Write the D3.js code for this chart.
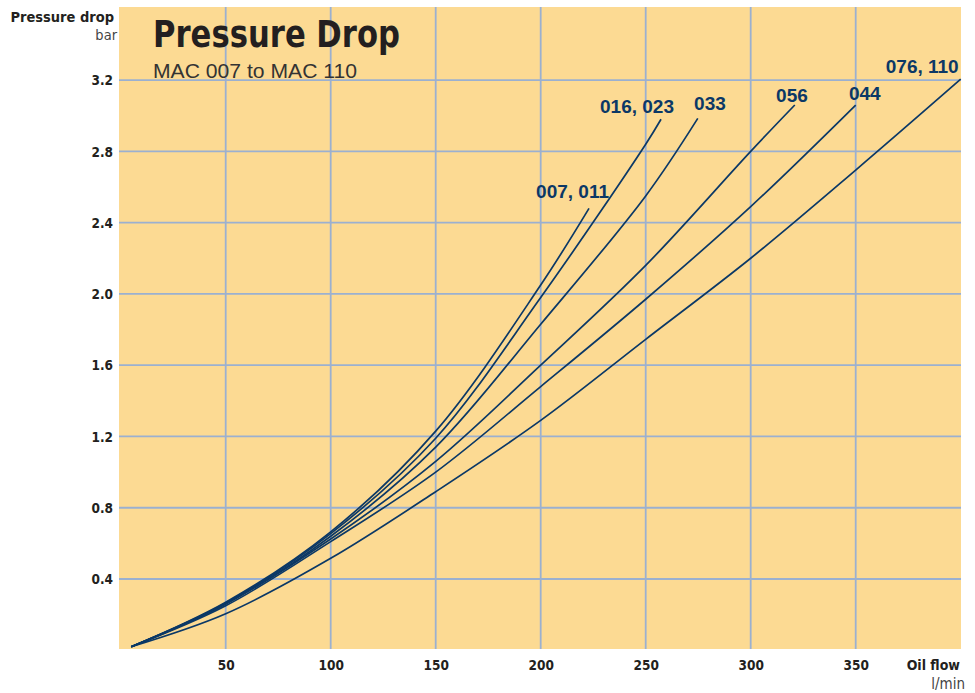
<!DOCTYPE html>
<html>
<head>
<meta charset="utf-8">
<script src="https://cdn.jsdelivr.net/npm/d3@7"></script>
<style>
  html, body { margin: 0; padding: 0; background: #ffffff; }
  svg { display: block; }
</style>
</head>
<body>
<svg id="chart" width="975" height="693"></svg>
<script>
// ---------- DATA ----------
const xTicks = [50, 100, 150, 200, 250, 300, 350];
const yTicks = [0.4, 0.8, 1.2, 1.6, 2.0, 2.4, 2.8, 3.2];

const seriesNames = ["007, 011", "016, 023", "033", "056", "044", "076, 110"];

const flow_007 = [5, 50, 100, 150, 200, 223];
const dp_007   = [0.02, 0.27, 0.665, 1.23, 2.05, 2.48];

const flow_016 = [5, 50, 100, 150, 200, 250, 257.3];
const dp_016   = [0.02, 0.265, 0.655, 1.19, 1.98, 2.84, 2.98];

const flow_033 = [5, 50, 100, 150, 200, 250, 274.8];
const dp_033   = [0.02, 0.26, 0.64, 1.14, 1.83, 2.55, 2.985];

const flow_056 = [5, 50, 100, 150, 200, 250, 300, 321];
const dp_056   = [0.02, 0.26, 0.625, 1.06, 1.60, 2.16, 2.80, 3.06];

const flow_044 = [5, 50, 100, 150, 200, 250, 300, 350];
const dp_044   = [0.02, 0.25, 0.61, 1.00, 1.48, 1.97, 2.49, 3.06];

const flow_076 = [5, 50, 100, 150, 200, 250, 300, 350, 400];
const dp_076   = [0.02, 0.205, 0.516, 0.89, 1.29, 1.745, 2.20, 2.695, 3.205];

const seriesFlows = [flow_007, flow_016, flow_033, flow_056, flow_044, flow_076];
const seriesDps   = [dp_007, dp_016, dp_033, dp_056, dp_044, dp_076];

// label offsets (styling) relative to each curve end, text-anchor end
const labelDx = [20, 13, 28, 13, 25, -2];
const labelDy = [-10, -6, -8, -3, -5, -6];

// ---------- LAYOUT ----------
const svg = d3.select("#chart");
const x = d3.scaleLinear().domain([0, 400]).range([120.7, 960.7]);
const y = d3.scaleLinear().domain([0, 3.6]).range([650.3, 8.8]);

const BG = "#FCDA93";
const GRID = "#9BB0D0";
const NAVY = "#0B3866";
const DARK = "#231F20";
const condensed = "'DejaVu Sans Condensed', 'DejaVu Sans', sans-serif";
const helv = "'Liberation Sans', Arial, sans-serif";

// background
svg.append("rect")
  .attr("x", 119).attr("y", 7)
  .attr("width", 961 - 119).attr("height", 649 - 7)
  .attr("fill", BG);

// grid
svg.append("g").selectAll("line").data(xTicks).join("line")
  .attr("x1", d => x(d)).attr("x2", d => x(d))
  .attr("y1", 7).attr("y2", 649)
  .attr("stroke", GRID).attr("stroke-width", 1.8);
svg.append("g").selectAll("line").data(yTicks).join("line")
  .attr("x1", 119).attr("x2", 961)
  .attr("y1", d => y(d)).attr("y2", d => y(d))
  .attr("stroke", GRID).attr("stroke-width", 1.8);

// axes labels via d3 axes (tick text only)
const yAxis = d3.axisLeft(y).tickValues(yTicks).tickFormat(d3.format(".1f")).tickSize(0).tickPadding(0);
const gy = svg.append("g").attr("transform", "translate(113,0)").call(yAxis);
gy.select(".domain").remove();
gy.selectAll("text")
  .attr("font-family", condensed).attr("font-weight", "bold").attr("font-size", 13.5)
  .attr("fill", DARK).attr("dy", "0.35em");

const xAxis = d3.axisBottom(x).tickValues(xTicks).tickFormat(d3.format("d")).tickSize(0).tickPadding(0);
const gx = svg.append("g").attr("transform", "translate(0,660)").call(xAxis);
gx.select(".domain").remove();
gx.selectAll("text")
  .attr("font-family", condensed).attr("font-weight", "bold").attr("font-size", 13.5)
  .attr("fill", DARK);

// axis titles
svg.append("text").attr("x", 114).attr("y", 22).attr("text-anchor", "end")
  .attr("font-family", condensed).attr("font-weight", "bold").attr("font-size", 14.5)
  .attr("fill", DARK).text("Pressure drop");
svg.append("text").attr("x", 117).attr("y", 40).attr("text-anchor", "end")
  .attr("font-family", condensed).attr("font-size", 14.5)
  .attr("fill", "#444").text("bar");
svg.append("text").attr("x", 960).attr("y", 670).attr("text-anchor", "end")
  .attr("font-family", condensed).attr("font-weight", "bold").attr("font-size", 14)
  .attr("fill", DARK).text("Oil flow");
svg.append("text").attr("x", 965).attr("y", 689).attr("text-anchor", "end")
  .attr("font-family", condensed).attr("font-size", 15)
  .attr("fill", "#444").text("l/min");

// title
svg.append("text").attr("x", 153).attr("y", 47)
  .attr("font-family", condensed).attr("font-weight", "bold").attr("font-size", 37)
  .attr("fill", DARK)
  .attr("textLength", 247).attr("lengthAdjust", "spacingAndGlyphs")
  .text("Pressure Drop");
svg.append("text").attr("x", 153).attr("y", 78)
  .attr("font-family", helv).attr("font-size", 20)
  .attr("fill", "#333")
  .attr("textLength", 204).attr("lengthAdjust", "spacingAndGlyphs")
  .text("MAC 007 to MAC 110");

// curves
const line = d3.line().x(d => x(d[0])).y(d => y(d[1])).curve(d3.curveCatmullRom.alpha(0.5));
const series = seriesNames.map((name, i) => ({
  name,
  pts: seriesFlows[i].map((f, j) => [f, seriesDps[i][j]]),
  dx: labelDx[i], dy: labelDy[i]
}));

svg.append("g").selectAll("path").data(series).join("path")
  .attr("d", d => line(d.pts))
  .attr("fill", "none").attr("stroke", NAVY).attr("stroke-width", 1.7);

svg.append("g").selectAll("text").data(series).join("text")
  .attr("x", d => x(d.pts[d.pts.length - 1][0]) + d.dx)
  .attr("y", d => y(d.pts[d.pts.length - 1][1]) + d.dy)
  .attr("text-anchor", "end")
  .attr("font-family", helv).attr("font-weight", "bold").attr("font-size", 19)
  .attr("fill", NAVY)
  .text(d => d.name);
</script>
</body>
</html>
